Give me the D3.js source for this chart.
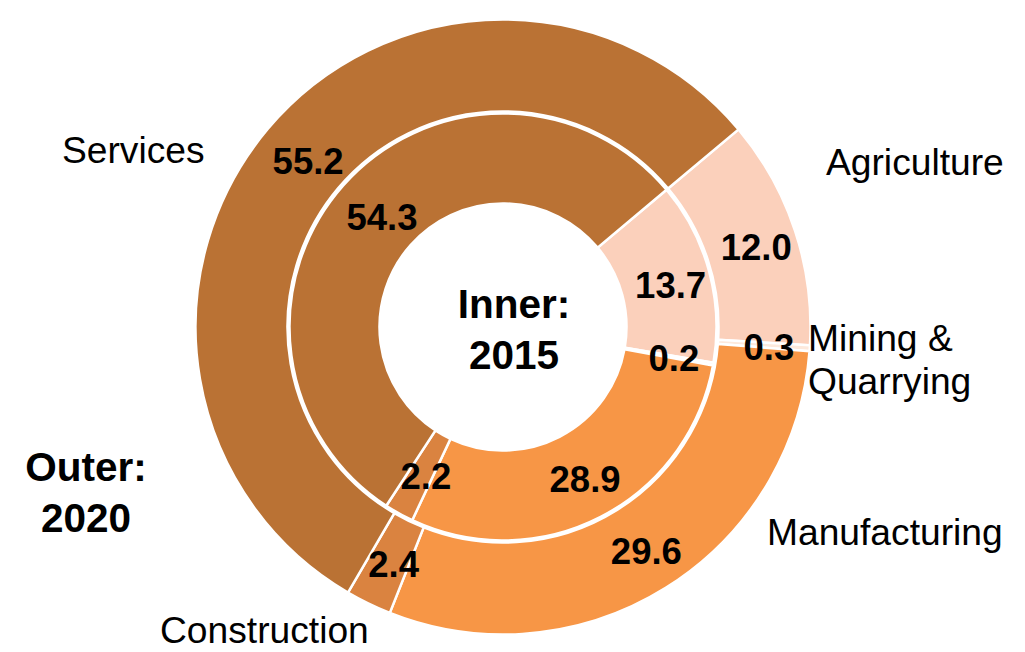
<!DOCTYPE html>
<html>
<head>
<meta charset="utf-8">
<script src="https://cdn.jsdelivr.net/npm/d3@7"></script>
<style>
  html, body { margin: 0; padding: 0; background: #fff; }
  svg { display: block; font-family: "Liberation Sans", Arial, sans-serif; }
</style>
</head>
<body>
<div id="chart"></div>
<script>
// Sector shares of GDP (%), inner ring = 2015, outer ring = 2020
const sectors = ["Agriculture", "Mining & Quarrying", "Manufacturing", "Construction", "Services"];
const values2015 = [13.7, 0.2, 28.9, 2.2, 54.3];
const values2020 = [12.0, 0.3, 29.6, 2.4, 55.2];
const sectorColors = ["#FBD0BB", "#FDE9DC", "#F79646", "#DA8340", "#BA7234"];

const width = 1025, height = 652;
const cx = 503, cy = 327;
const startDeg = 50;

const svg = d3.select("#chart")
  .append("svg")
  .attr("width", width)
  .attr("height", height)
  .attr("viewBox", [0, 0, width, height]);

const color = d3.scaleOrdinal().domain(sectors).range(sectorColors);

const pie = d3.pie()
  .sort(null)
  .value(d => d.value)
  .startAngle(startDeg * Math.PI / 180)
  .endAngle((startDeg + 360) * Math.PI / 180);

const rings = [
  { name: "2015", values: values2015, inner: 123.5, outer: 213.5 },
  { name: "2020", values: values2020, inner: 215.5, outer: 307.5 }
];

const g = svg.append("g").attr("transform", `translate(${cx},${cy})`);

rings.forEach(ring => {
  const data = sectors.map((s, i) => ({ sector: s, value: ring.values[i] }));
  const arc = d3.arc().innerRadius(ring.inner).outerRadius(ring.outer);
  const arcs = pie(data);

  const rg = g.append("g").attr("class", "ring ring-" + ring.name);

  rg.selectAll("path")
    .data(arcs)
    .join("path")
    .attr("d", arc)
    .attr("fill", d => color(d.data.sector))
    .attr("stroke", "#fff")
    .attr("stroke-width", 2.5);

  // value labels sit at the segment centroid (nudged a bit like Excel does)
  rg.selectAll("text")
    .data(arcs)
    .join("text")
    .attr("transform", d => {
      const [x, y] = arc.centroid(d);
      return `translate(${x + 5},${y + 2})`;
    })
    .attr("text-anchor", "middle")
    .attr("dy", "0.36em")
    .attr("font-size", "36.5px")
    .attr("font-weight", "bold")
    .attr("fill", "#000")
    .text(d => d.data.value.toFixed(1));
});

// category labels placed around the chart
const catLabels = [
  { lines: ["Services"], x: 62, y: 163 },
  { lines: ["Agriculture"], x: 826, y: 175 },
  { lines: ["Mining &", "Quarrying"], x: 808, y: 351 },
  { lines: ["Manufacturing"], x: 767, y: 545 },
  { lines: ["Construction"], x: 160, y: 643 }
];

catLabels.forEach(l => {
  const t = svg.append("text")
    .attr("x", l.x)
    .attr("y", l.y)
    .attr("font-size", "37.2px")
    .attr("fill", "#000");
  l.lines.forEach((line, i) => {
    t.append("tspan").attr("x", l.x).attr("dy", i === 0 ? 0 : 43).text(line);
  });
});

// ring titles
const titles = [
  { lines: ["Inner:", "2015"], x: 514, y: 318 },
  { lines: ["Outer:", "2020"], x: 86, y: 481 }
];

titles.forEach(l => {
  const t = svg.append("text")
    .attr("x", l.x)
    .attr("y", l.y)
    .attr("text-anchor", "middle")
    .attr("font-size", "40.5px")
    .attr("font-weight", "bold")
    .attr("fill", "#000");
  l.lines.forEach((line, i) => {
    t.append("tspan").attr("x", l.x).attr("dy", i === 0 ? 0 : 51).text(line);
  });
});
</script>
</body>
</html>
